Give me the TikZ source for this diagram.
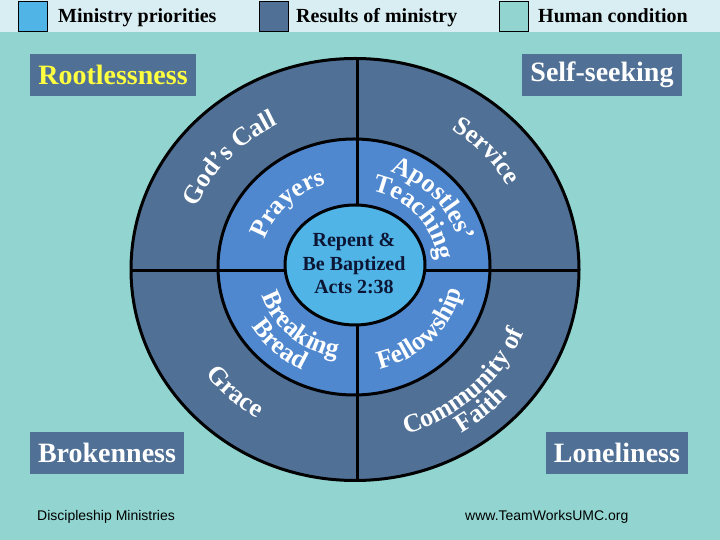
\documentclass[tikz,border=0pt]{standalone}
\usepackage{fontspec}
\setmainfont{Liberation Serif}
\newfontfamily\sansf{Liberation Sans}
\usetikzlibrary{decorations.text}
\definecolor{bgteal}{RGB}{146,213,208}
\definecolor{topstrip}{RGB}{216,238,242}
\definecolor{outerc}{RGB}{80,112,150}
\definecolor{midc}{RGB}{80,136,208}
\definecolor{innerc}{RGB}{80,180,230}
\definecolor{navy}{RGB}{12,22,52}
\definecolor{yell}{RGB}{255,255,64}
\newcommand{\ringfont}{\bfseries\fontsize{26}{30}\selectfont}
\begin{document}
\begin{tikzpicture}[x=1pt,y=1pt,
  ring/.style={line width=3pt, draw=black},
  ringtext/.style={decorate, decoration={text along path, text align=center, text color=white}},
  legbox/.style={draw=black, line width=0.8pt, minimum width=29pt, minimum height=30pt, inner sep=0pt},
  legtext/.style={anchor=base west, inner sep=0pt, font=\bfseries\fontsize{20}{24}\selectfont},
  condbox/.style={fill=outerc, minimum height=42pt, inner sep=0pt, font=\bfseries\fontsize{28}{32}\selectfont, text=white},
  foot/.style={anchor=base west, inner sep=0pt, font=\sansf\fontsize{14}{16}\selectfont},
  centertext/.style={anchor=base, inner sep=0pt, text=navy, font=\bfseries\fontsize{20}{24}\selectfont}]
\useasboundingbox (0,0) rectangle (720,540);
\fill[bgteal] (0,0) rectangle (720,540);
\fill[topstrip] (0,508) rectangle (720,540);
% legend
\node[legbox, fill=innerc] (lg1) at (32.5,524) {};
\node[legtext] (lt1) at (58,517) {Ministry priorities};
\node[legbox, fill=outerc] (lg2) at (273.5,524) {};
\node[legtext] (lt2) at (296,517) {Results of ministry};
\node[legbox, fill=bgteal] (lg3) at (513.5,524) {};
\node[legtext] (lt3) at (538,517) {Human condition};
% condition boxes
\node[condbox, minimum width=166pt, text=yell] (rootless) at (113,465) {Rootlessness};
\node[condbox, minimum width=160pt] (selfseek) at (602,465) {Self-seeking};
\node[condbox, minimum width=154pt] (broken) at (107,87) {Brokenness};
\node[condbox, minimum width=142pt] (lonely) at (617,87) {Loneliness};
% wheel
\filldraw[ring, fill=outerc] (355,270.5) ellipse[x radius=224, y radius=211];
\filldraw[ring, fill=midc] (354,273) ellipse[x radius=136, y radius=128];
\draw[line width=3pt] (357.5,481) coordinate (vtop) -- (357.5,60) coordinate (vbot);
\draw[line width=3pt] (131.5,269.5) coordinate (hl) -- (578.5,269.5) coordinate (hr);
\filldraw[ring, fill=innerc] (355,275) ellipse[x radius=70, y radius=60];
\node[centertext] (c1) at (354,293) {Repent \&};
\node[centertext] (c2) at (354,269.5) {Be Baptized};
\node[centertext] (c3) at (354,246) {Acts 2:38};
\begin{scope}[shift={(354,272)}]
\path[ringtext, decoration={text={|\ringfont|God’s Call}}] (188:170 and 160) arc[start angle=188, end angle=88, x radius=170, y radius=160];
\path[ringtext, decoration={text={|\ringfont|Service}}] (92:177 and 166) arc[start angle=92, end angle=-8, x radius=177, y radius=166];
\path[ringtext, decoration={text={|\ringfont|Prayers}}] (185:94 and 88) arc[start angle=185, end angle=85, x radius=94, y radius=88];
\path[ringtext, decoration={text={|\ringfont|Apostles’}}] (92:109 and 102) arc[start angle=92, end angle=-8, x radius=109, y radius=102];
\path[ringtext, decoration={text={|\ringfont|Teaching}}] (91:84 and 79) arc[start angle=91, end angle=-9, x radius=84, y radius=79];
\path[ringtext, decoration={text={|\ringfont|Breaking}}] (178:97 and 91) arc[start angle=178, end angle=278, x radius=97, y radius=91];
\path[ringtext, decoration={text={|\ringfont|Bread}}] (177:120 and 113) arc[start angle=177, end angle=277, x radius=120, y radius=113];
\path[ringtext, decoration={text={|\ringfont|Fellowship}}] (266:110 and 104) arc[start angle=266, end angle=366, x radius=110, y radius=104];
\path[ringtext, decoration={text={|\ringfont|Community of}}] (263:183 and 173) arc[start angle=263, end angle=363, x radius=183, y radius=173];
\path[ringtext, decoration={text={|\ringfont|Faith}}] (261:205 and 194) arc[start angle=261, end angle=361, x radius=205, y radius=194];
\path[ringtext, decoration={text={|\ringfont|Grace}}] (177:186 and 176) arc[start angle=177, end angle=277, x radius=186, y radius=176];
\end{scope}
% footer
\node[foot] (f1) at (37,19) {Discipleship Ministries};
\node[foot] (f2) at (465,19) {www.TeamWorksUMC.org};
\end{tikzpicture}
\end{document}
